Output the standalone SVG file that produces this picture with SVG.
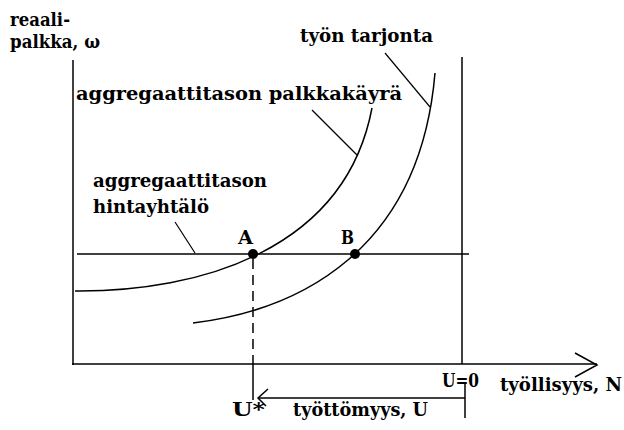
<svg xmlns="http://www.w3.org/2000/svg" width="624" height="430" viewBox="0 0 624 430">
<style>
text{font-family:"DejaVu Serif","Liberation Serif",serif;font-weight:bold;font-size:18px;fill:#000}
.ln{stroke:#000;stroke-width:1.5;fill:none}
.thin{stroke:#000;stroke-width:1.2;fill:none}
</style>
<rect width="624" height="430" fill="#fff"/>
<g id="axes">
<line class="ln" x1="73" y1="60" x2="73" y2="365"/>
<line class="ln" x1="72" y1="364" x2="597" y2="364"/>
<polyline class="ln" points="575,353 597,365 575,377"/>
<line class="ln" x1="462" y1="57" x2="462" y2="364"/>
</g>
<g id="connectors">
<line class="ln" x1="77" y1="254" x2="469" y2="254"/>
<path class="ln" d="M75,291 C200,292 345,250 372,108"/>
<path class="ln" d="M193,323 C300,310 420,250 435,73"/>
<line class="thin" x1="385" y1="53" x2="430" y2="107"/>
<line class="thin" x1="312" y1="110" x2="357" y2="155"/>
<line class="thin" x1="175" y1="222" x2="195" y2="253"/>
<line class="ln" x1="253" y1="259" x2="253" y2="364" stroke-dasharray="10,6"/>
<line class="ln" x1="253" y1="364" x2="253" y2="400"/>
<line class="ln" x1="465" y1="398" x2="259" y2="398"/>
<polyline class="ln" points="268,389 258,398 266,406"/>
<line class="ln" x1="465" y1="384" x2="465" y2="418"/>
</g>
<g id="pointA">
<circle cx="253" cy="254" r="5"/>
<text x="238" y="244" textLength="15" lengthAdjust="spacingAndGlyphs">A</text>
</g>
<g id="pointB">
<circle cx="355" cy="254" r="5"/>
<text x="341" y="244" textLength="13" lengthAdjust="spacingAndGlyphs">B</text>
</g>
<g id="labels">
<text x="10" y="26" textLength="60" lengthAdjust="spacingAndGlyphs">reaali-</text>
<text x="10" y="48" textLength="90" lengthAdjust="spacingAndGlyphs">palkka, ω</text>
<text x="300" y="42" textLength="133" lengthAdjust="spacingAndGlyphs">työn tarjonta</text>
<text x="76" y="100" textLength="326" lengthAdjust="spacingAndGlyphs">aggregaattitason palkkakäyrä</text>
<text x="93" y="187" textLength="174" lengthAdjust="spacingAndGlyphs">aggregaattitason</text>
<text x="93" y="213" textLength="116" lengthAdjust="spacingAndGlyphs">hintayhtälö</text>
<text x="442" y="387" textLength="37" lengthAdjust="spacingAndGlyphs">U=0</text>
<text x="500" y="391" textLength="122" lengthAdjust="spacingAndGlyphs">työllisyys, N</text>
<text x="232" y="416" textLength="33" lengthAdjust="spacingAndGlyphs">U*</text>
<text x="293" y="416" textLength="135" lengthAdjust="spacingAndGlyphs">työttömyys, U</text>
</g>
</svg>
